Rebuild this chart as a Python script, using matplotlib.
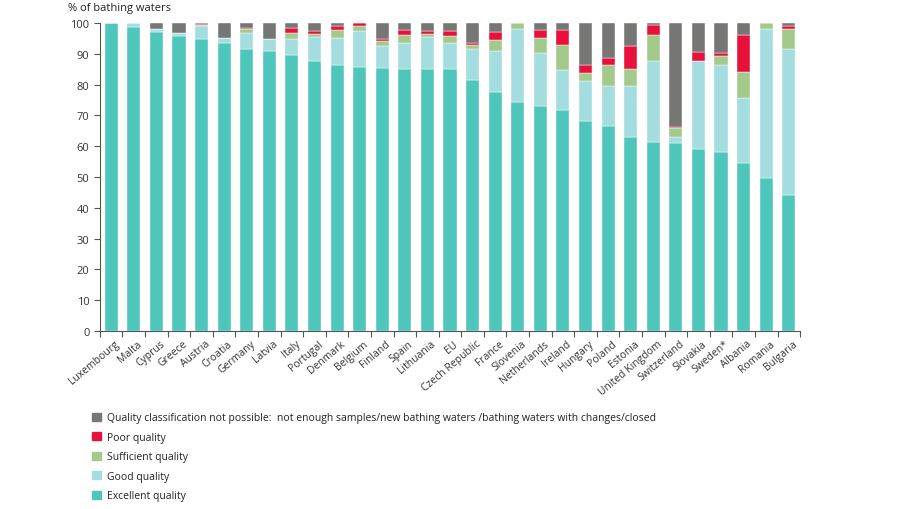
import numpy as np
import matplotlib
matplotlib.use("Agg")
import matplotlib.pyplot as plt
from matplotlib.patches import Patch

plt.rcParams['font.family'] = ['Open Sans', 'DejaVu Sans']

# 国家 / 类别
countries = ['Luxembourg', 'Malta', 'Cyprus', 'Greece', 'Austria', 'Croatia', 'Germany',
             'Latvia', 'Italy', 'Portugal', 'Denmark', 'Belgium', 'Finland', 'Spain',
             'Lithuania', 'EU', 'Czech Republic', 'France', 'Slovenia', 'Netherlands',
             'Ireland', 'Hungary', 'Poland', 'Estonia', 'United Kingdom', 'Switzerland',
             'Slovakia', 'Sweden*', 'Albania', 'Romania', 'Bulgaria']

# 各质量等级占比 (%)
excellent = [100.0, 98.7, 97.2, 95.9, 94.8, 93.6, 91.4, 91.0, 89.6, 87.7, 86.5, 85.6, 85.4,
             85.2, 84.9, 84.9, 81.6, 77.5, 74.2, 73.2, 71.6, 68.3, 66.5, 62.9, 61.2, 60.9,
             59.1, 58.2, 54.7, 49.6, 44.0]
good = [0.0, 1.3, 1.0, 0.7, 4.1, 1.4, 5.4, 3.7, 5.3, 7.8, 8.5, 11.8, 7.2,
        8.3, 10.7, 8.7, 9.9, 13.4, 23.9, 17.2, 13.0, 12.7, 13.1, 16.8, 26.6, 2.2,
        28.4, 28.1, 20.8, 48.5, 47.6]
sufficient = [0.0, 0.0, 0.0, 0.0, 0.6, 0.0, 1.3, 0.0, 2.0, 1.0, 2.8, 1.7, 1.7,
              2.6, 0.9, 2.3, 1.4, 3.7, 1.9, 4.6, 8.3, 2.8, 6.8, 5.5, 8.3, 2.7,
              0.0, 3.1, 8.7, 1.9, 6.5]
poor = [0.0, 0.0, 0.0, 0.0, 0.1, 0.0, 0.4, 0.0, 1.4, 0.9, 1.1, 0.9, 0.5,
        1.5, 0.8, 1.4, 0.5, 2.4, 0.0, 2.6, 4.9, 2.6, 2.1, 7.4, 3.3, 0.3,
        3.2, 0.8, 11.9, 0.0, 0.8]
not_possible = [0.0, 0.0, 1.8, 3.4, 0.4, 5.0, 1.5, 5.3, 1.7, 2.6, 1.1, 0.0, 5.2,
                2.4, 2.7, 2.7, 6.6, 3.0, 0.0, 2.4, 2.2, 13.6, 11.5, 7.4, 0.6, 33.9,
                9.3, 9.8, 3.9, 0.0, 1.1]

c_exc = '#4fc6bb'
c_good = '#a3dde0'
c_suff = '#a3c98b'
c_poor = '#e8113b'
c_np = '#767775'

fig = plt.figure(figsize=(9, 5.1), dpi=100)
ax = fig.add_axes([0.111, 0.349, 0.778, 0.604])

x = np.arange(len(countries))
w = 0.58
series = [(excellent, c_exc), (good, c_good), (sufficient, c_suff),
          (poor, c_poor), (not_possible, c_np)]
bottom = np.zeros(len(countries))
for vals, col in series:
    vals = np.array(vals)
    ax.bar(x, vals, w, bottom=bottom, color=col, edgecolor='white', linewidth=0.3)
    bottom += vals

ax.set_xlim(-0.5, len(countries) - 0.5)
ax.set_ylim(0, 100)
ax.set_yticks(range(0, 101, 10))
ax.tick_params(axis='y', labelsize=8, labelcolor='#333333', color='#555555', length=4, width=0.8)
ax.set_xticks(x + 0.15)
ax.set_xticklabels(countries, rotation=40, ha='right', rotation_mode='anchor',
                   fontsize=7.5, color='#333333')
ax.tick_params(axis='x', length=0, pad=5)
# 类别分隔刻度线
ax.set_xticks(np.arange(-0.5, len(countries), 1), minor=True)
ax.tick_params(axis='x', which='minor', length=4, width=0.8, color='#555555')
for s in ['top', 'right']:
    ax.spines[s].set_visible(False)
for s in ['left', 'bottom']:
    ax.spines[s].set_color('#555555')
    ax.spines[s].set_linewidth(0.8)

fig.text(0.076, 0.983, '% of bathing waters', fontsize=8, color='#222222', va='center')

handles = [Patch(color=c_np), Patch(color=c_poor), Patch(color=c_suff),
           Patch(color=c_good), Patch(color=c_exc)]
labels = ['Quality classification not possible:  not enough samples/new bathing waters /bathing waters with changes/closed',
          'Poor quality', 'Sufficient quality', 'Good quality', 'Excellent quality']
fig.legend(handles, labels, loc='upper left', bbox_to_anchor=(0.098, 0.198), frameon=False,
           fontsize=7.5, handlelength=0.8, handleheight=0.8, handletextpad=0.6,
           labelspacing=0.82, borderaxespad=0, labelcolor='#222222')

fig.savefig('out.png', dpi=100)
